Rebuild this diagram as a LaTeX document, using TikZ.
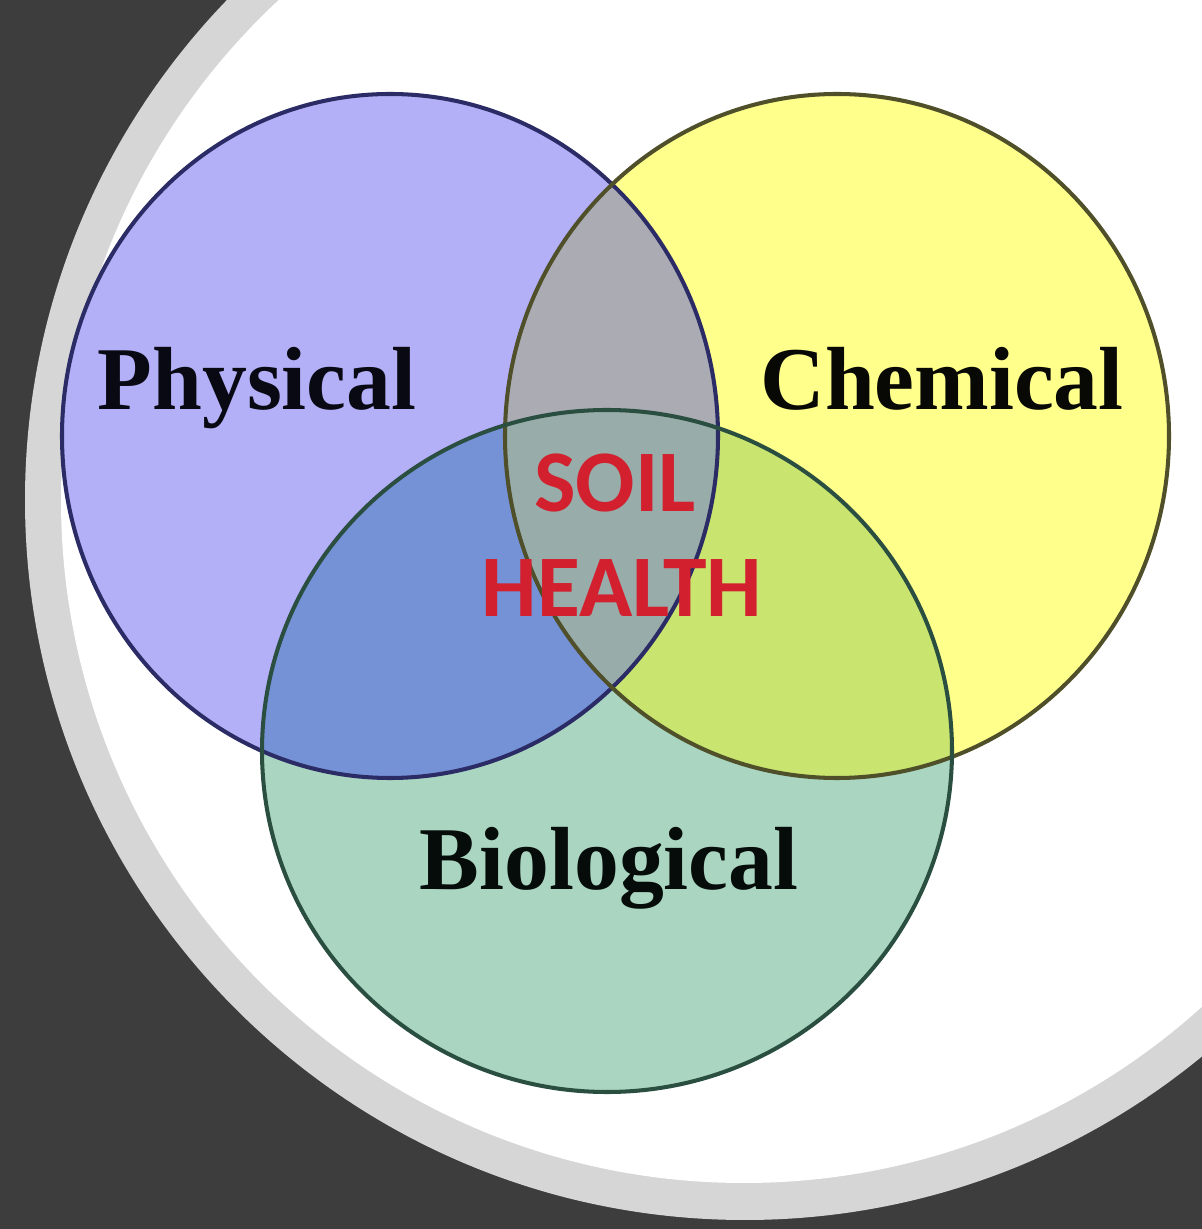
\documentclass[tikz,border=0pt]{standalone}
\usepackage{xcolor}
\usepackage{fontspec}
\setmainfont{Liberation Serif}
\newfontfamily\soilfont{Carlito}
\usepackage{tikz}
\definecolor{SHBack}{HTML}{3D3D3D}
\definecolor{SHRing}{HTML}{D6D6D6}
\definecolor{SHPhys}{HTML}{B4B0F8}
\definecolor{SHChem}{HTML}{FFFF8C}
\definecolor{SHBio}{HTML}{A9D5C1}
\definecolor{SHPhysChem}{HTML}{ABABB4}
\definecolor{SHPhysBio}{HTML}{7592D6}
\definecolor{SHChemBio}{HTML}{C9E46F}
\definecolor{SHAll}{HTML}{98ACAA}
\definecolor{SHPhysLine}{HTML}{2B2B66}
\definecolor{SHChemLine}{HTML}{4F4F2A}
\definecolor{SHBioLine}{HTML}{2A4F40}
\definecolor{SHRed}{HTML}{D2202E}
\tikzset{
  setlabel/.style={anchor=base,font=\fontsize{25.5}{30}\selectfont\bfseries},
  soillabel/.style={anchor=base,text=SHRed,font=\soilfont\fontsize{25}{30}\selectfont\bfseries},
  setline/.style={line width=1.15pt}
}

\begin{document}
\begin{tikzpicture}[x=1cm,y=1cm]
\path[use as bounding box] (0,0) rectangle (12.02,12.29);
\clip (0,0) rectangle (12.02,12.29);
\fill[SHBack] (0,0) rectangle (12.02,12.29);
\fill[SHRing] (7.45,7.29) circle (7.20);
\fill[white] (7.44,7.29) circle (6.83);
% the three sets
\fill[SHPhys] (3.90,7.93) ellipse [x radius=3.28,y radius=3.42];
\fill[SHChem] (8.37,7.93) ellipse [x radius=3.32,y radius=3.42];
\fill[SHBio] (6.07,4.78) ellipse [x radius=3.45,y radius=3.41];
% overlaps
\begin{scope}
\clip (3.90,7.93) ellipse [x radius=3.28,y radius=3.42];
\fill[SHPhysChem] (8.37,7.93) ellipse [x radius=3.32,y radius=3.42];
\fill[SHPhysBio] (6.07,4.78) ellipse [x radius=3.45,y radius=3.41];
\end{scope}
\begin{scope}
\clip (8.37,7.93) ellipse [x radius=3.32,y radius=3.42];
\fill[SHChemBio] (6.07,4.78) ellipse [x radius=3.45,y radius=3.41];
\clip (3.90,7.93) ellipse [x radius=3.28,y radius=3.42];
\fill[SHAll] (6.07,4.78) ellipse [x radius=3.45,y radius=3.41];
\end{scope}
% outlines
\draw[SHPhysLine,setline] (3.90,7.93) ellipse [x radius=3.28,y radius=3.42];
\draw[SHChemLine,setline] (8.37,7.93) ellipse [x radius=3.32,y radius=3.42];
\draw[SHBioLine,setline] (6.07,4.78) ellipse [x radius=3.45,y radius=3.41];
% labels
\node[setlabel,text=black!80!SHPhysLine] (physical) at (2.57,8.19) {Physical};
\node[setlabel,text=black!90!SHChemLine] (chemical) at (9.42,8.19) {Chemical};
\node[setlabel,text=black!85!SHBioLine] (biological) at (6.09,3.39) {Biological};
\node[soillabel] (soil) at (6.15,7.17) {SOIL};
\node[soillabel] (health) at (6.22,6.12) {HEALTH};
\end{tikzpicture}
\end{document}
